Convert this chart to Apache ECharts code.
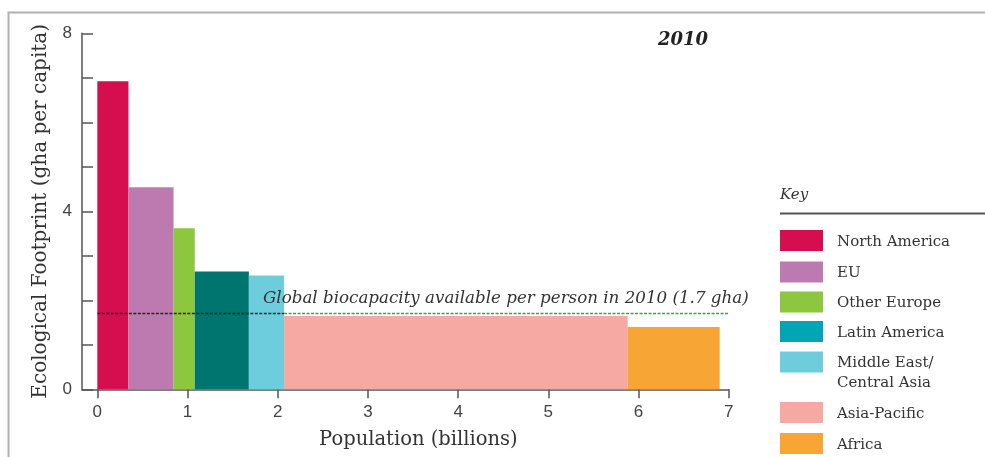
<!DOCTYPE html>
<html>
<head>
<meta charset="utf-8">
<script src="https://cdn.jsdelivr.net/npm/echarts@6/dist/echarts.min.js"></script>
<style>
  html, body { margin: 0; padding: 0; background: #fff; }
  #chart { width: 985px; height: 457px; }
</style>
</head>
<body>
<div id="chart"></div>
<script>
// regions, population width (billions) and footprint (gha per capita)
var regions = ['North America', 'EU', 'Other Europe', 'Latin America', 'Middle East/\nCentral Asia', 'Asia-Pacific', 'Africa'];
var population = [0.345, 0.5, 0.235, 0.6, 0.39, 3.81, 1.02];
var footprint = [6.92, 4.54, 3.62, 2.65, 2.56, 1.65, 1.40];
var biocapacity = 1.7;
var xTicks = [0, 1, 2, 3, 4, 5, 6, 7];
var yLabels = [0, 4, 8];

var barColors = ['#d50e4f', '#bc7ab1', '#8dc63f', '#00746f', '#6ecddd', '#f6a9a3', '#f7a534'];
var keyColors = ['#d50e4f', '#bc7ab1', '#8dc63f', '#00a5b5', '#6ecddd', '#f6a9a3', '#f7a534'];

var serif = '"DejaVu Serif", "Liberation Serif", serif';
var sans = '"Liberation Sans", Arial, sans-serif';

// cumulative start/end for each bar
var bars = [];
var acc = 0;
for (var i = 0; i < regions.length; i++) {
  bars.push([acc, acc + population[i], footprint[i], i]);
  acc += population[i];
}
var asiaStart = bars[5][0];

// legend ("Key") built as graphics
var keyItems = [];
var keyY = [230, 261.5, 291.5, 321, 351.5, 402, 433];
regions.forEach(function (name, i) {
  keyItems.push({
    type: 'rect',
    shape: { x: 780, y: keyY[i], width: 43, height: 21 },
    style: { fill: keyColors[i] }
  });
  keyItems.push({
    type: 'text',
    x: 837, y: keyY[i] + 2,
    style: { text: name, font: '15px ' + serif, fill: '#333', lineHeight: 20 }
  });
});

var chart = echarts.init(document.getElementById('chart'));

var option = {
  animation: false,
  grid: { left: 82, right: 256.3, top: 33.3, bottom: 67.7 },
  xAxis: {
    type: 'value',
    min: -0.17,
    max: 7,
    name: 'Population (billions)',
    nameLocation: 'middle',
    nameGap: 41,
    nameTextStyle: { fontFamily: serif, fontSize: 19.5, color: '#333', padding: [0, 0, 0, 26] },
    axisLine: { onZero: false, lineStyle: { color: '#555', width: 1.5 } },
    axisTick: { customValues: xTicks, length: 9, lineStyle: { color: '#555', width: 1.5 } },
    axisLabel: { customValues: xTicks, margin: 15, fontFamily: sans, fontSize: 17, color: '#444' },
    splitLine: { show: false }
  },
  yAxis: {
    type: 'value',
    min: 0,
    max: 8,
    interval: 1,
    name: 'Ecological Footprint (gha per capita)',
    nameLocation: 'middle',
    nameGap: 31,
    nameTextStyle: { fontFamily: serif, fontSize: 20, color: '#333' },
    axisLine: { show: true, onZero: false, lineStyle: { color: '#555', width: 1.5 } },
    axisTick: { show: true, inside: true, length: 11, lineStyle: { color: '#555', width: 1.5 } },
    axisLabel: {
      margin: 10, fontFamily: sans, fontSize: 17, color: '#444',
      formatter: function (v) { return yLabels.indexOf(v) >= 0 ? String(v) : ''; }
    },
    splitLine: { show: false }
  },
  series: [{
    type: 'custom',
    data: bars,
    renderItem: function (params, api) {
      var p0 = api.coord([api.value(0), api.value(2)]);
      var p1 = api.coord([api.value(1), 0]);
      return {
        type: 'rect',
        shape: { x: p0[0], y: p0[1], width: p1[0] - p0[0], height: p1[1] - p0[1] },
        style: { fill: barColors[api.value(3)] }
      };
    },
    markLine: {
      silent: true,
      symbol: ['none', 'none'],
      label: { show: false },
      data: [
        [{ coord: [0, biocapacity], lineStyle: { color: '#1e2a22', type: [3, 1.5], width: 1.3 } }, { coord: [asiaStart, biocapacity] }],
        [{ coord: [asiaStart, biocapacity], lineStyle: { color: '#3f9f55', type: [3, 1.5], width: 1.3 } }, { coord: [7, biocapacity] }]
      ]
    }
  }],
  graphic: [
    {
      type: 'rect',
      shape: { x: 8.5, y: 12.5, width: 1000, height: 500 },
      style: { fill: 'none', stroke: '#b0b0b0', lineWidth: 2 },
      silent: true
    },
    {
      type: 'text',
      x: 683, y: 40, z: 100,
      style: { text: '2010', font: 'italic bold 18px ' + serif, fill: '#222', align: 'center', verticalAlign: 'middle' }
    },
    {
      type: 'text',
      x: 263, y: 299, z: 100,
      style: { text: 'Global biocapacity available per person in 2010 (1.7 gha)', font: 'italic 16.7px ' + serif, fill: '#333', verticalAlign: 'middle' }
    },
    {
      type: 'text',
      x: 780, y: 195,
      style: { text: 'Key', font: 'italic 15px ' + serif, fill: '#333', verticalAlign: 'middle' }
    },
    {
      type: 'line',
      shape: { x1: 780, y1: 213.5, x2: 985, y2: 213.5 },
      style: { stroke: '#555', lineWidth: 2 }
    }
  ].concat(keyItems)
};

chart.setOption(option);
</script>
</body>
</html>
